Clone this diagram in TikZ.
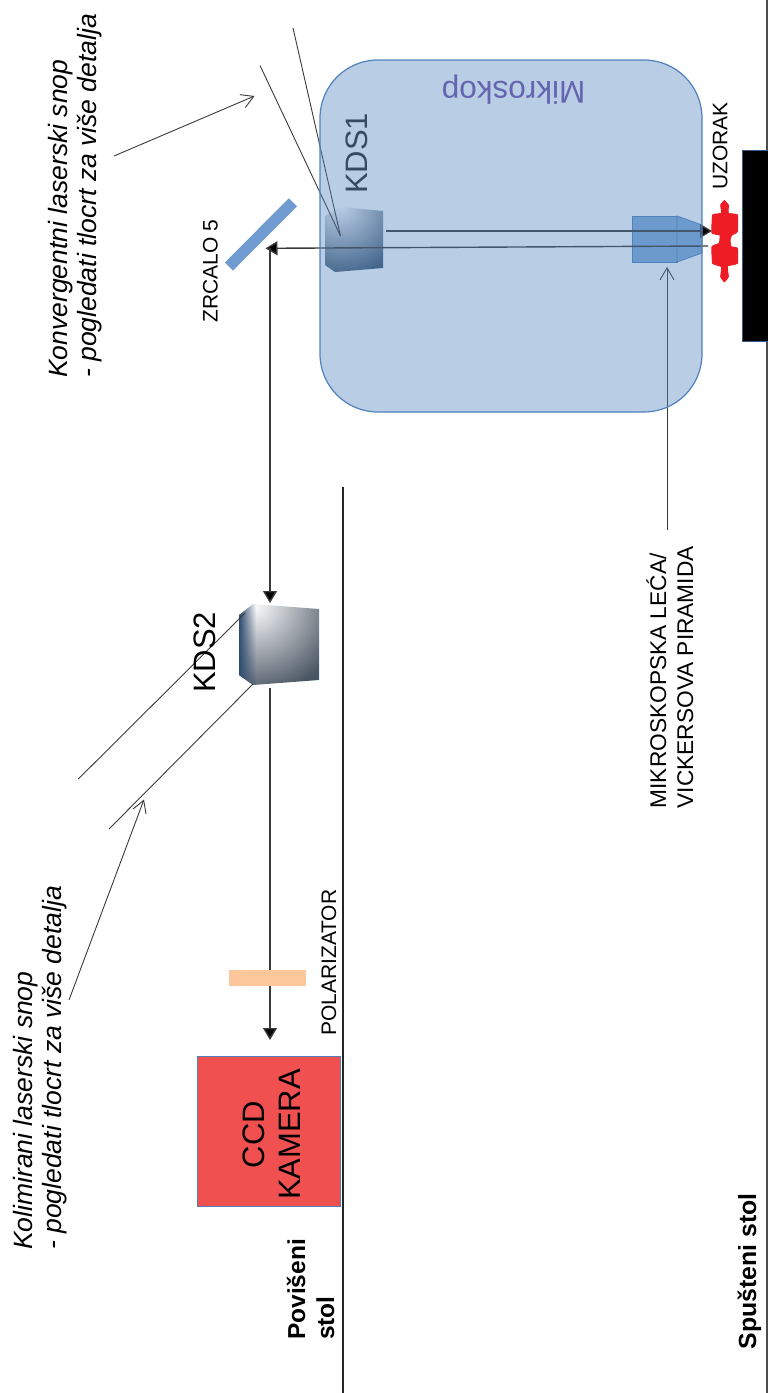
\documentclass[tikz,border=0pt]{standalone}
\usepackage{fontspec}
\setmainfont{Liberation Sans}
\usetikzlibrary{arrows.meta,fadings}
\pgfdeclareradialshading{kdsshade}{\pgfpoint{0bp}{0bp}}{color(0bp)=(white); color(21bp)=(rgb:red,123;green,143;blue,166); color(43bp)=(rgb:red,45;green,69;blue,96); color(50bp)=(rgb:red,45;green,69;blue,96)}
\pgfdeclareradialshading{kdsoneshade}{\pgfpoint{0bp}{0bp}}{color(0bp)=(white); color(22bp)=(rgb:red,105;green,145;blue,185); color(50bp)=(rgb:red,55;green,85;blue,118)}
\definecolor{scopeblue}{HTML}{4F81BD}
\definecolor{lensblue}{HTML}{82ACD7}
\definecolor{mirrorblue}{HTML}{6F9BD1}
\definecolor{beamgrey}{HTML}{3A3A3A}
\definecolor{mikcolor}{HTML}{6464B0}
\definecolor{polcolor}{HTML}{FCC89B}
\definecolor{ccdred}{HTML}{F15050}
\definecolor{puzzlered}{HTML}{EE1C25}
\tikzset{
  beam/.style={draw=beamgrey,line width=1.4pt},
  thinbeam/.style={draw=beamgrey,line width=0.9pt},
  solidhead/.style={-{Triangle[length=12pt,width=14pt,fill=black]}},
  openhead/.style={-{Straight Barb[length=12pt,width=14pt,line width=0.9pt]}},
  rotlabel/.style={rotate=90,inner sep=0pt,anchor=base west,align=left},
  small/.style={rotlabel,font=\fontsize{21}{27}\selectfont,text=black},
  noteit/.style={rotate=90,inner sep=0pt,anchor=west,align=left,font=\fontsize{26.5}{29.5}\selectfont\itshape},
  big/.style={rotlabel,font=\fontsize{31}{36}\selectfont},
  boldlab/.style={rotate=90,inner sep=0pt,anchor=west,align=left,font=\fontsize{24.5}{29}\selectfont\bfseries},
}
\begin{document}
\begin{tikzpicture}[x=1pt,y=-1pt]
\useasboundingbox (0,0) rectangle (768,1393);
% named end points
\coordinate (kds1c) at (340.5,236);
\coordinate (conv1) at (260,65.5);
\coordinate (conv2) at (293,28);
\coordinate (convnote) at (114,156);
\coordinate (convtip) at (254.5,96);
\coordinate (b1a) at (386,231);
\coordinate (b1b) at (712,231);
\coordinate (b2a) at (708,246);
\coordinate (b2b) at (265.5,248.3);
\coordinate (va) at (270,248);
\coordinate (vb) at (270,603);
\coordinate (ca) at (270,688);
\coordinate (cb) at (270,1040);
\coordinate (kds2a) at (245,613);
\coordinate (kds2b) at (252.7,684.3);
\coordinate (col1) at (78.3,779);
\coordinate (col2) at (109,829);
\coordinate (colnote) at (69,1000);
\coordinate (coltip) at (144,799.5);
\coordinate (lensnote) at (667,530);
\coordinate (lenstip) at (667,267);
\coordinate (ta) at (767,0);
\coordinate (tb) at (767,1393);
\coordinate (tc) at (343,487);
\coordinate (td) at (343,1393);
% tables
\draw[line width=1.2pt,draw=black!70] (ta) -- (tb);
\draw[line width=1.2pt,draw=black!85] (tc) -- (td);
\fill[black] (742.5,150.7) rectangle (768,341.7);
\draw[draw=scopeblue!70!black,line width=.8pt] (768,150.7) -- (742.5,150.7) -- (742.5,341.7) -- (768,341.7);
% KDS1 cube
\begin{scope}
\clip (325,216) -- (341,207) -- (383,211) -- (383,268) -- (335,272) -- (325,265) -- cycle;
\shade[shading=kdsoneshade] (341,207) circle (78);
\end{scope}
% lens
\path[fill=lensblue,draw=scopeblue,line width=.8pt] (632,216) rectangle (677,262);
\path[fill=lensblue,draw=scopeblue,line width=.8pt] (677,216) -- (702,225) -- (702,253) -- (677,262) -- cycle;
% beams inside microscope
\draw[thinbeam] (conv1) -- (kds1c);
\draw[thinbeam] (conv2) -- (kds1c);
\draw[beam,solidhead] (b1a) -- (b1b);
\draw[beam,solidhead] (b2a) -- (b2b);
\draw[thinbeam,openhead] (lensnote) -- (lenstip);
\node[big,text=black!85] (kds1) at (367,194) {KDS1};
% microscope
\path[fill=scopeblue,fill opacity=.4,draw=scopeblue,line width=1.2pt,rounded corners=58pt] (320,60) rectangle (702,412);
\node[rotate=180,inner sep=0pt,font=\fontsize{31.5}{36}\selectfont,text=mikcolor] (mik) at (513.5,90) {Mikroskop};
% mirror
\fill[mirrorblue] (288.8,198.2) -- (297,206.4) -- (233,270.5) -- (225,262.5) -- cycle;
% specimen
\path[fill=puzzlered,draw=puzzlered,line width=1pt] plot[smooth cycle,tension=.2] coordinates {(724.3,200.7) (720.7,205) (721.7,213.3) (712.7,215) (712,233) (720,235) (719.3,243.3) (712,246.7) (712.7,263.3) (721.7,266.7) (720.7,276.7) (724.3,281.7) (728.3,276.7) (727.3,266) (737.3,263.3) (737.3,248.3) (731,246.7) (730,240) (731.7,235) (737.3,231.7) (737.3,215) (728.3,213.3) (728.3,205)};
% arrows outside
\draw[thinbeam,openhead] (convnote) -- (convtip);
\draw[beam,solidhead] (va) -- (vb);
\draw[beam,solidhead] (ca) -- (cb);
% KDS2 cube
\begin{scope}
\clip (239,615) -- (253,604) -- (319,609) -- (319,680) -- (253,685) -- (239,675) -- cycle;
\shade[shading=kdsshade] (253,604) circle (110);
\fill[color=scopeblue!60!black,path fading=east] (239,600) rectangle (256,690);
\end{scope}
\draw[thinbeam] (col1) -- (kds2a);
\draw[thinbeam] (col2) -- (kds2b);
\draw[thinbeam,openhead] (colnote) -- (coltip);
\fill[polcolor] (229,969.5) rectangle (306,986);
\node[draw=scopeblue,line width=1pt,fill=ccdred,minimum width=143pt,minimum height=149.5pt,inner sep=0pt] (ccd) at (269,1131.3) {};
\node[rotate=90,inner sep=0pt,align=center,font=\fontsize{31}{36}\selectfont] (ccdt) at (272,1134.5) {CCD\\KAMERA};
% labels
\node[big,text=black] (kds2) at (215,693) {KDS2};
\node[small] (zrc) at (217.6,322.7) {ZRCALO 5};
\node[small] (uzo) at (727.4,190) {UZORAK};
\node[small] (pol) at (336,1036) {POLARIZATOR};
\node[rotate=90,inner sep=0pt,anchor=west,align=left,font=\fontsize{22.7}{27}\selectfont] (lens) at (670,808.5) {MIKROSKOPSKA LEĆA/\\VICKERSOVA PIRAMIDA};
\node[noteit] (nconv) at (75,378) {Konvergentni laserski snop\\- pogledati tlocrt za više detalja};
\node[noteit] (ncol) at (40,1250) {Kolimirani laserski snop\\- pogledati tlocrt za više detalja};
\node[boldlab] (pov) at (310.5,1340) {Povišeni\\stol};
\node[boldlab,anchor=base west,font=\fontsize{24.8}{29}\selectfont\bfseries] (spu) at (756,1349.5) {Spušteni stol};
\end{tikzpicture}
\end{document}
